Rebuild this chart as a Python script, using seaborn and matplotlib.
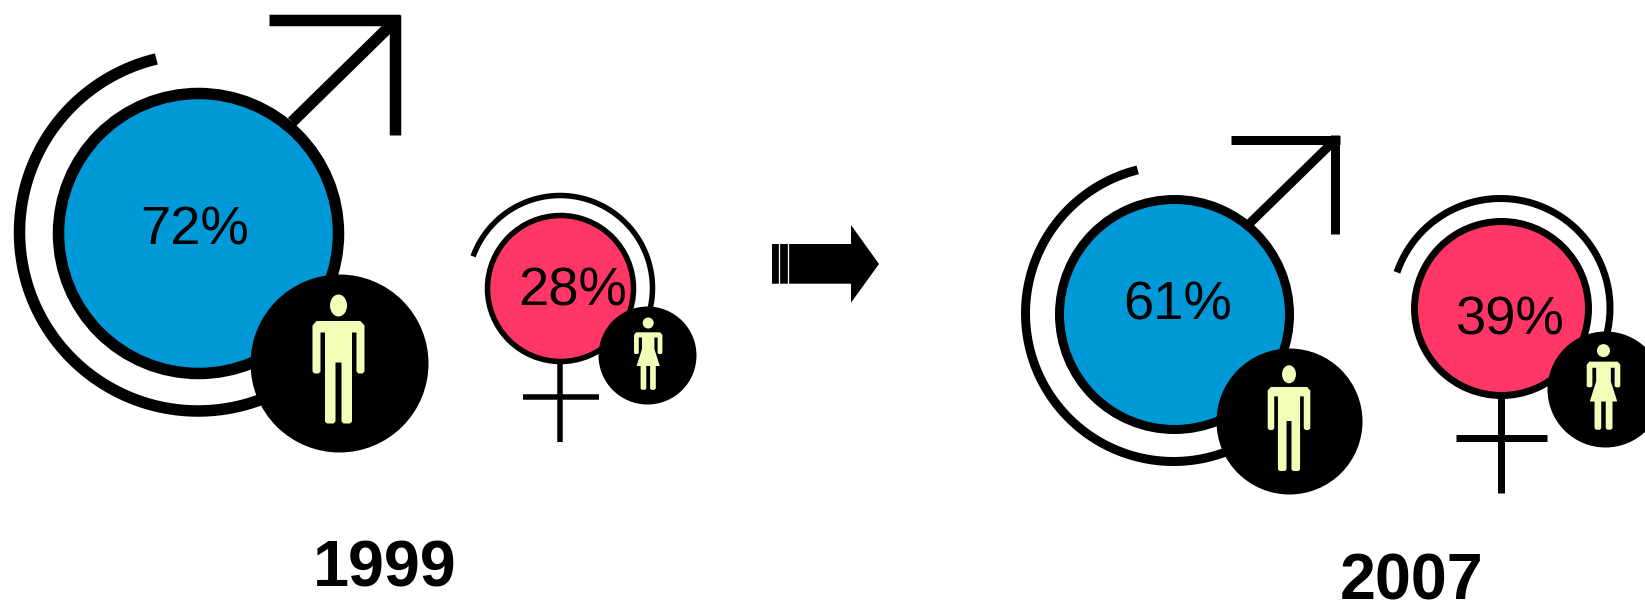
import numpy as np
import pandas as pd
import matplotlib
matplotlib.use("Agg")
import matplotlib.pyplot as plt
from matplotlib.patches import Polygon, Ellipse
import seaborn as sns

# ---- chart values
years = ["1999", "2007"]
male_share = [72, 61]
female_share = [28, 39]

# ---- layout (pixels)
male_cx = [198, 1173.5]
male_cy = [232.5, 313.5]
male_r = [140, 115]
male_lw = [11.5, 9]
male_arc_r = [178.5, 148]
male_arc_start = [103.5, 104]
male_disk = [(338.5, 362.5, 89), (1289, 421, 73)]
male_text = [(195, 225), (1178, 300)]
male_bar = [(268.6, 20.2, 400), (1231, 139.6, 1340)]
male_vert = [(394.5, 14.6, 135), (1335.3, 135, 234)]
male_diag = [(292, 122, 392, 24), (1249, 224, 1333, 142)]

female_cx = [560, 1500.5]
female_cy = [288, 308]
female_r = [73, 87]
female_lw = [5.5, 7]
female_arc_r = [92.5, 109.5]
female_arc_start = [160, 161]
female_disk = [(647, 355, 49), (1604.5, 388.5, 58)]
female_text = [(573, 285.5), (1510.5, 315)]
female_stem_end = [442, 492.7]
female_cross = [(522.5, 599, 397), (1455.7, 1547, 438)]

year_text = [(385, 586.5), (1412, 600)]

BLUE = "#0099D8"
PINK = "#FF3666"
SKIN = "#F3FDB8"
INK = "#000000"
PX = 0.72  # points per pixel at dpi 100
LABEL_SIZE = 39.2
YEAR_SIZE = 46.5

sns.set_theme(style="white")
plt.rcParams["font.family"] = ["Liberation Sans", "DejaVu Sans"]

fig = plt.figure(figsize=(16.45, 6.02), dpi=100, facecolor="white")
ax = fig.add_axes([0, 0, 1, 1])
ax.set_xlim(0, 1645)
ax.set_ylim(602, 0)
ax.axis("off")

df = pd.DataFrame({
    "year": years * 2,
    "gender": ["male"] * 2 + ["female"] * 2,
    "share": male_share + female_share,
    "x": male_cx + female_cx,
    "y": male_cy + female_cy,
    "r": male_r + female_r,
    "lw": male_lw + female_lw,
})


def line(xs, ys, lw, z=2):
    ax.plot(xs, ys, color=INK, lw=lw * PX, solid_capstyle="butt",
            solid_joinstyle="miter", zorder=z)


def arc(cx, cy, r, a0, a1, lw):
    t = np.radians(np.linspace(a0, a1, 200))
    line(cx + r * np.cos(t), cy - r * np.sin(t), lw, z=2)


def man(cx, cy, r):
    k = r / 89
    half = [(0, -41.5), (22, -41.5), (26, -37), (26, 9), (24, 11), (20, 11),
            (18, 9), (18, -30), (13.5, -30), (13.5, 59), (11.5, 61), (5, 61),
            (3, 59), (3, 0)]
    pts = half + [(-x, y) for x, y in reversed(half[1:])]
    ax.add_patch(Polygon([(cx + x * k, cy + y * k) for x, y in pts], closed=True,
                         fc=SKIN, ec="none", zorder=6))
    ax.add_patch(Ellipse((cx, cy - 57 * k), 17 * k, 22 * k, fc=SKIN, ec="none", zorder=6))


def woman(cx, cy, r):
    k = r / 49
    half = [(0, -22.7), (12, -22.7), (14.2, -20), (14.2, -2), (13, -1), (10.6, -1),
            (9.4, -2), (9.4, -17.5), (6.2, -17.5), (6.2, -6), (11.6, 11), (7.6, 11),
            (7.6, 33.5), (6.4, 34.8), (3.1, 34.8), (1.9, 33.5), (1.9, 11), (0, 11)]
    pts = half + [(-x, y) for x, y in reversed(half[1:-1])]
    ax.add_patch(Polygon([(cx + x * k, cy + y * k) for x, y in pts], closed=True,
                         fc=SKIN, ec="none", zorder=6))
    ax.add_patch(Ellipse((cx, cy - 32 * k), 11 * k, 11 * k, fc=SKIN, ec="none", zorder=6))


def disk(x, y, r, color, lw=0, z=3):
    sns.scatterplot(x=[x], y=[y], s=(2 * r * PX) ** 2, color=color, marker="o",
                    edgecolor=INK, linewidth=lw * PX, ax=ax, legend=False, zorder=z)


# share disks
for row in df.itertuples():
    disk(row.x, row.y, row.r, BLUE if row.gender == "male" else PINK, row.lw)

for i, yr in enumerate(years):
    # male symbol
    b = male_bar[i]
    line([b[0], b[2]], [b[1], b[1]], male_lw[i])
    v = male_vert[i]
    line([v[0], v[0]], [v[1], v[2]], male_lw[i])
    d = male_diag[i]
    line([d[0], d[2]], [d[1], d[3]], male_lw[i])
    arc(male_cx[i], male_cy[i], male_arc_r[i], male_arc_start[i], 300, male_lw[i])
    dx, dy, dr = male_disk[i]
    disk(dx, dy, dr, INK, z=5)
    man(dx, dy, dr)
    ax.text(*male_text[i], f"{male_share[i]}%", fontsize=LABEL_SIZE, ha="center",
            va="center_baseline", color=INK, zorder=7)

    # female symbol
    line([female_cx[i]] * 2, [female_cy[i] + female_r[i], female_stem_end[i]], female_lw[i])
    c = female_cross[i]
    line([c[0], c[1]], [c[2], c[2]], female_lw[i])
    arc(female_cx[i], female_cy[i], female_arc_r[i], female_arc_start[i], -30, female_lw[i])
    dx, dy, dr = female_disk[i]
    disk(dx, dy, dr, INK, z=5)
    woman(dx + (1.2 if i == 0 else -1), dy, dr)
    ax.text(*female_text[i], f"{female_share[i]}%", fontsize=LABEL_SIZE, ha="center",
            va="center_baseline", color=INK, zorder=7)

    ax.text(*year_text[i], yr, fontsize=YEAR_SIZE, fontweight="bold", ha="center",
            va="baseline", color=INK, zorder=7)

# arrow between the two years
ax.add_patch(Polygon([(772, 244), (851, 244), (851, 225), (879, 264), (851, 302.7),
                      (851, 283.7), (772, 283.7)], closed=True, fc=INK, ec="none", zorder=2))
for gap in (778.5, 787.5):
    ax.plot([gap, gap], [243, 285], color="white", lw=1.3 * PX, zorder=3)

fig.savefig("out.png", dpi=100, facecolor="white")
